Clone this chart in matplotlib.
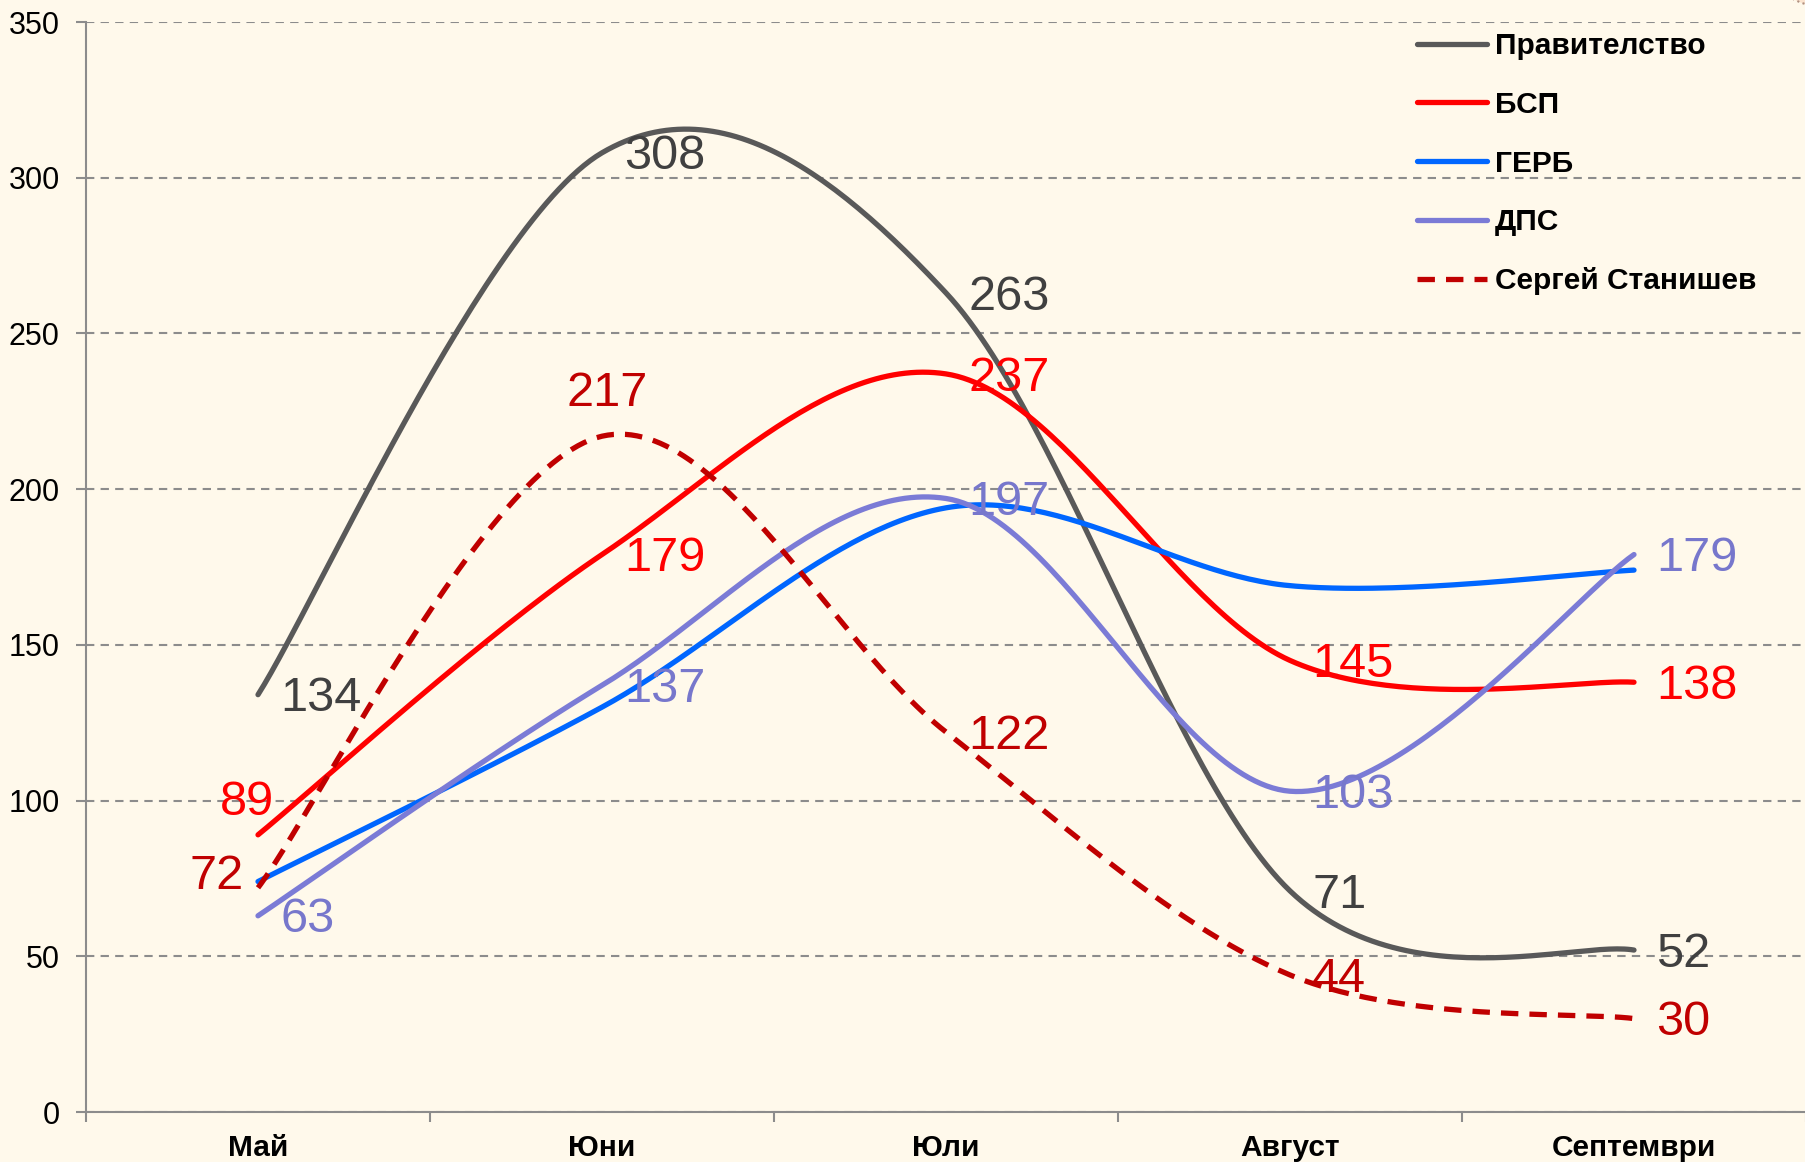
import numpy as np
import matplotlib
matplotlib.use("Agg")
import matplotlib.pyplot as plt
from matplotlib.patches import Ellipse

plt.rcParams['font.family'] = ['Liberation Sans', 'DejaVu Sans']

# data
months = ["Май", "Юни", "Юли", "Август", "Септември"]
series_names = ["Правителство", "БСП", "ГЕРБ", "ДПС", "Сергей Станишев"]
pravitelstvo = [134, 308, 263, 71, 52]
bsp = [89, 179, 237, 145, 138]
gerb = [74, 130, 194, 169, 174]
dps = [63, 137, 197, 103, 179]
stanishev = [72, 217, 122, 44, 30]

# styles
line_colors = ["#595959", "#FF0000", "#0066FF", "#7B7BD6", "#C00000"]
label_colors = ["#404040", "#FF0000", None, "#7777CC", "#C00000"]
# where the value label sits: r = right, a = above, l = left, None = no labels
label_pos = [
    ["r", "r", "r", "r", "r"],
    ["a", "r", "r", "r", "r"],
    None,
    ["r", "r", "r", "r", "r"],
    ["l", "a", "r", "r", "r"],
]
label_offsets = {"r": (16, -3), "l": (-10, 8)}
bg = "#FFF9EB"


def smooth(xs, ys, n=60):
    # Catmull-Rom style smoothing like Excel's "smoothed line"
    xs = np.asarray(xs, float)
    ys = np.asarray(ys, float)
    px = np.concatenate([[xs[0]], xs, [xs[-1]]])
    py = np.concatenate([[ys[0]], ys, [ys[-1]]])
    out_x, out_y = [], []
    t = np.linspace(0, 1, n)
    for i in range(len(xs) - 1):
        p0 = np.array([px[i + 1], py[i + 1]])
        p3 = np.array([px[i + 2], py[i + 2]])
        p1 = p0 + (np.array([px[i + 2], py[i + 2]]) - np.array([px[i], py[i]])) / 6
        p2 = p3 - (np.array([px[i + 3], py[i + 3]]) - np.array([px[i + 1], py[i + 1]])) / 6
        b = ((1 - t) ** 3)[:, None] * p0 + (3 * (1 - t) ** 2 * t)[:, None] * p1 \
            + (3 * (1 - t) * t ** 2)[:, None] * p2 + (t ** 3)[:, None] * p3
        out_x.extend(b[:, 0])
        out_y.extend(b[:, 1])
    return np.array(out_x), np.array(out_y)


fig = plt.figure(figsize=(18.06, 11.62), dpi=100, facecolor=bg)
ax = fig.add_axes([86 / 1806, 1 - 1112 / 1162, 1 - 86 / 1806, 1090 / 1162])
ax.set_facecolor(bg)

x = np.arange(len(months)) + 0.5
all_series = [pravitelstvo, bsp, gerb, dps, stanishev]

for name, vals, col, lcol, pos in zip(series_names, all_series, line_colors, label_colors, label_pos):
    sx, sy = smooth(x, vals)
    if name == "Сергей Станишев":
        ax.plot(sx, sy, color=col, lw=3.8, ls=(0, (3.3, 2.1)), label=name, zorder=3)
    else:
        ax.plot(sx, sy, color=col, lw=3.8, solid_capstyle="round", label=name, zorder=3)
    if pos is None:
        continue
    for xi, v, p in zip(x, vals, pos):
        if p == "a":
            # the May label sits lower and a bit to the left
            off = (-8, 23) if xi < 1 else (4, 31)
            ha = "center"
        else:
            off = label_offsets[p]
            ha = "left" if p == "r" else "right"
        ax.annotate(str(v), (xi, v), xytext=off, textcoords="offset points",
                    ha=ha, va="center", fontsize=35, color=lcol, zorder=4)

ax.set_xlim(0, (1806 - 86) / 345.5)
ax.set_ylim(0, 350)
ax.set_yticks(range(0, 351, 50))
ax.set_xticks(range(0, 6))
ax.set_xticklabels([])
ax.set_xticks(x, minor=True)
ax.set_xticklabels(months, minor=True, fontsize=21.5, fontweight="bold")
ax.tick_params(axis="x", which="minor", length=0, pad=16)
ax.tick_params(axis="x", which="major", length=7, width=1.5, color="#8C8C8C", direction="out")
ax.tick_params(axis="y", length=7, width=1.5, color="#8C8C8C", labelsize=22, pad=12)

ax.yaxis.grid(True, color="#8C8C8C", ls=(0, (4, 3)), lw=1.5)
ax.set_axisbelow(True)
for s in ["top", "right"]:
    ax.spines[s].set_visible(False)
for s in ["left", "bottom"]:
    ax.spines[s].set_color("#8C8C8C")
    ax.spines[s].set_linewidth(1.5)

leg = ax.legend(loc="upper left", bbox_to_anchor=(1417 / 1806, 1 - 32 / 1162),
                bbox_transform=fig.transFigure, frameon=False,
                prop={"size": 21.5, "weight": "bold"}, handlelength=2.35,
                handletextpad=0.25, labelspacing=1.03, borderpad=0, borderaxespad=0)

# decorative circle peeking in the corner
fig.patches.append(Ellipse((1830 / 1806, 1 + 52 / 1162), 140 / 1806, 120 / 1162,
                           transform=fig.transFigure, facecolor="#FCE4CF",
                           edgecolor="#B09080", ls=":", lw=1.5, zorder=0))

fig.savefig("out.png", dpi=100, facecolor=bg)
